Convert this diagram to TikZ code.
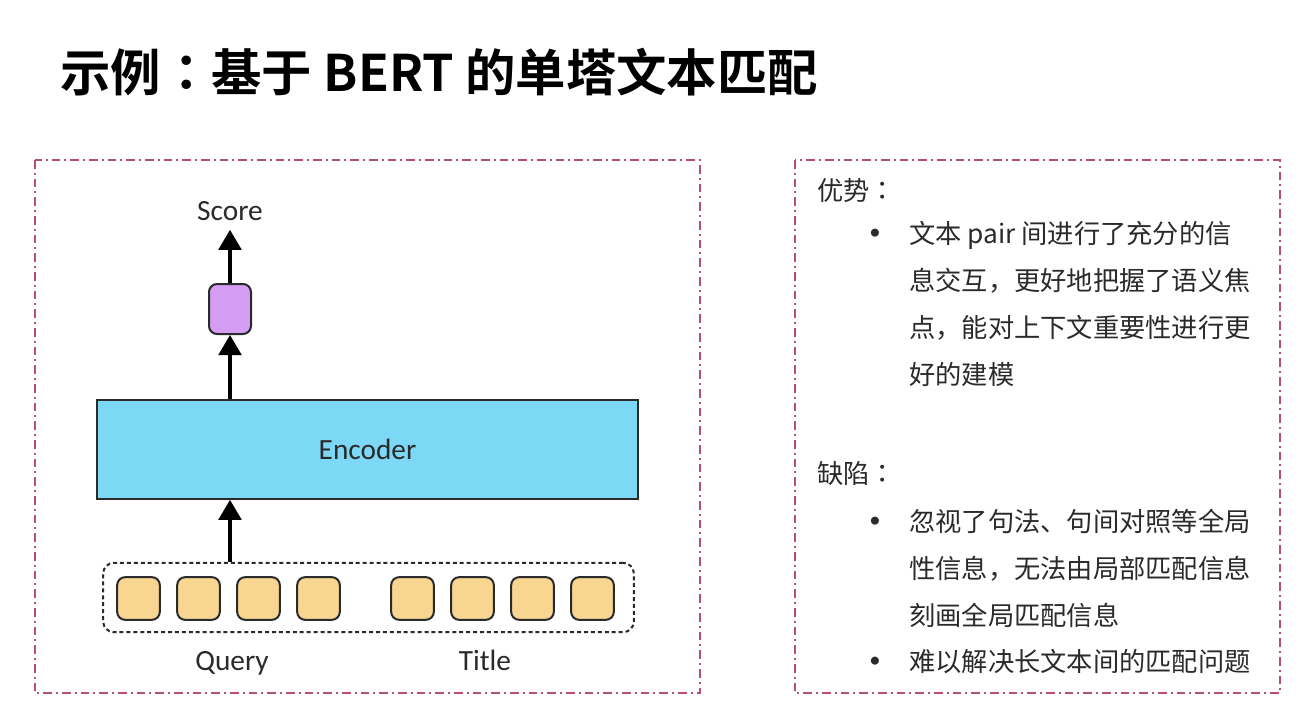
\documentclass[tikz,border=0pt]{standalone}
\usepackage{fontspec}
\setmainfont{Carlito}
\newfontfamily\cjk[BoldFont={Noto Sans CJK SC Bold}]{Noto Sans CJK SC}
\newfontfamily\cjkjp[BoldFont={Noto Sans CJK JP Bold}]{Noto Sans CJK JP}
\usetikzlibrary{arrows.meta}

\definecolor{frameRed}{HTML}{B8506B}
\definecolor{encBlue}{HTML}{7DD8F5}
\definecolor{outPurple}{HTML}{D59CF4}
\definecolor{tokYellow}{HTML}{F8D591}
\definecolor{inkGray}{HTML}{2A2A2A}

% centred full-width colon
\newcommand{\cnColon}{{\cjkjp ：}}

\tikzset{
  panel/.style={draw=frameRed, line width=1.1pt, dash pattern=on 6.5pt off 3pt on 1.5pt off 3pt},
  flow/.style={line width=2.4pt, -{Triangle[width=17pt,length=15pt]}},
  tok/.style={draw=inkGray, line width=1.5pt, fill=tokYellow, rounded corners=6pt,
    minimum width=32pt, minimum height=32pt, inner sep=0pt},
  lbl/.style={font=\fontsize{22}{26}\selectfont, text=inkGray, inner sep=0pt},
  txt/.style={font=\cjk\fontsize{19.7}{35.25}\selectfont, text=inkGray, inner sep=0pt},
  bul/.style={font=\fontsize{17}{20}\selectfont, text=inkGray, inner sep=0pt},
}

\begin{document}
\begin{tikzpicture}[x=0.75pt,y=0.75pt,yscale=-1,xscale=1]
  \useasboundingbox (0,0) rectangle (1308,722);

  % Title
  \node[anchor=base west, inner sep=0pt] (title) at (60,91)
    {\cjk\bfseries\fontsize{37.8}{40}\selectfont 示例{\cjkjp\bfseries ：}基于 BERT 的单塔文本匹配};

  % Panels
  \draw[panel] (35,160) rectangle (700,693);
  \draw[panel] (795,160) rectangle (1280,693);

  % Input tokens
  \foreach \i/\x in {1/138.5,2/198.5,3/258.5,4/318.5,5/412.5,6/472.5,7/532.5,8/592.5}
    \node[tok] (t\i) at (\x,598.5) {};
  \node[draw=inkGray, line width=1.5pt, dash pattern=on 3pt off 2.2pt, rounded corners=8pt,
    minimum width=398pt, minimum height=52pt] (grp) at (368.5,597.5) {};

  % Encoder
  \node[draw=inkGray, line width=1.2pt, fill=encBlue, minimum width=405.75pt,
    minimum height=74.25pt, lbl] (enc) at (367.5,449.5) {\raisebox{-2pt}{Encoder}};

  % Output
  \node[draw=inkGray, line width=1.5pt, fill=outPurple, rounded corners=6pt,
    minimum width=31.5pt, minimum height=37.5pt, inner sep=0pt] (out) at (230,309) {};
  \node[lbl, anchor=base] (score) at (230,220) {Score};

  % Text Node
  \node[lbl, anchor=base] (query) at (232,670) {Query};
  % Text Node
  \node[lbl, anchor=base] (ttl) at (485,670) {Title};

  \draw[flow] (grp.north -| out) -- (enc.south -| out);
  \draw[flow] (enc.north -| out) -- (out.south);
  \draw[flow, shorten >=7pt] (out.north) -- (score.south -| out);

  % Pros and cons
  \node[txt, anchor=base west] (pros) at (817,200) {优势\cnColon};
  \node[bul] (b1) at (875,234) {•};
  \node[txt, anchor=north west, align=left] (pro1) at (909,221)
    {文本 pair 间进行了充分的信\\息交互，更好地把握了语义焦\\点，能对上下文重要性进行更\\好的建模};

  \node[txt, anchor=base west] (cons) at (817,483) {缺陷\cnColon};
  \node[bul] (b2) at (875,522) {•};
  \node[txt, anchor=north west, align=left] (con1) at (909,509)
    {忽视了句法、句间对照等全局\\性信息，无法由局部匹配信息\\刻画全局匹配信息};
  \node[bul] (b3) at (875,662) {•};
  \node[txt, anchor=north west, align=left] (con2) at (909,649)
    {难以解决长文本间的匹配问题};
\end{tikzpicture}
\end{document}
